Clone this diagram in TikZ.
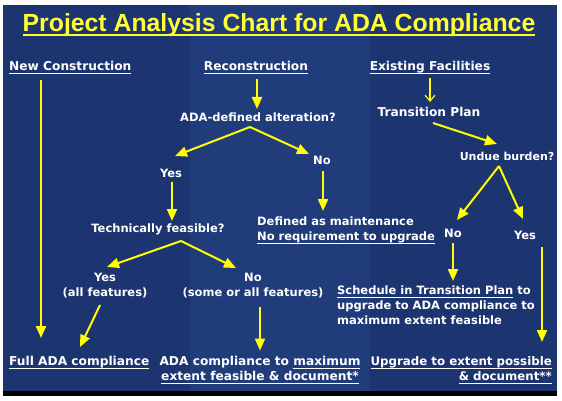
\documentclass[tikz,border=0pt]{standalone}
\usepackage{fontspec}
\usetikzlibrary{arrows.meta,calc}
\setmainfont{DejaVu Sans}
\newfontfamily\titlefont{Liberation Sans}
\newcommand\ulx[2][1.1pt]{\begingroup\setbox0\hbox{#2}\dp0=0pt\vtop{\box0\kern2.2pt\hrule height #1}\endgroup}
\definecolor{paneldark}{HTML}{1C3470}
\definecolor{panellight}{HTML}{213C7A}
\definecolor{arrowyellow}{HTML}{FFFF00}
\definecolor{titleyellow}{HTML}{FFFF33}
\tikzset{
  txt/.style={inner sep=0pt, text=white, font=\fontsize{11.5}{15}\selectfont\bfseries},
  head/.style={inner sep=0pt, text=white, font=\fontsize{12.2}{15}\selectfont\bfseries},
  arr/.style={draw=arrowyellow, line width=2pt, -{Triangle[length=12pt,width=10pt]}},
  thinarr/.style={draw=arrowyellow, line width=1.2pt, -{Straight Barb[length=6pt,width=10pt,line width=1.2pt]}},
}
\begin{document}
\begin{tikzpicture}[x=1pt,y=-1pt]
\useasboundingbox (0,0) rectangle (562,401);
\fill[white] (0,0) rectangle (562,401);
% panel
\fill[paneldark] (3,5) rectangle (190,391);
\fill[panellight] (190,5) rectangle (370,391);
\fill[paneldark] (370,5) rectangle (557,391);
\fill[black] (3,391) rectangle (557,396);
% title
\node[inner sep=0pt, text=titleyellow, font=\titlefont\fontsize{24.8}{27}\selectfont\bfseries, anchor=base] (title) at (279,32)
  {\ulx[2.2pt]{Project Analysis Chart for ADA Compliance}};
% headings
\node[head, anchor=west] (nc) at (9,68) {\ulx{New Construction}};
\node[head] (rc) at (256,68) {\ulx{Reconstruction}};
\node[head] (ef) at (430,68) {\ulx{Existing Facilities}};
% reconstruction branch
\node[txt] (alt) at (258,117) {ADA-defined alteration?};
\node[txt] (no1) at (322,160) {No};
\node[txt] (yes1) at (171,173) {Yes};
\node[txt] (tech) at (158,229) {Technically feasible?};
\node[txt, anchor=west, align=left] (maint) at (257,230.5) {Defined as maintenance\\\ulx{No requirement to upgrade}};
\node[txt, align=center] (yes2) at (105,286) {Yes\\(all features)};
\node[txt, align=center] (no2) at (253,286) {No\\(some or all features)};
\node[head, anchor=west] (full) at (9,363) {\ulx{Full ADA compliance}};
\node[head, align=center] (adamax) at (260,370.5) {ADA compliance to \ulx{maximum}\\\ulx{extent feasible \& document*}};
% existing facilities branch
\node[head] (tp) at (429,112) {Transition Plan};
\node[txt, font=\fontsize{11}{15}\selectfont\bfseries] (undue) at (507,156) {Undue burden?};
\node[txt] (no3) at (453,233) {No};
\node[txt] (yes3) at (525,235) {Yes};
\node[txt, anchor=west, align=left] (sched) at (337,305.5) {\ulx{Schedule in Transition Plan} to\\upgrade to ADA compliance to\\maximum extent feasible};
\node[head, font=\fontsize{11.8}{15}\selectfont\bfseries, anchor=east, align=right] (upg) at (552,370.5) {\ulx{Upgrade to extent possible}\\\ulx{\& document**}};
% arrows
\draw[arr] ($(nc.west)+(32,12)$) -- ($(full.west)+(32,-25)$);
\draw[arr] ($(rc.center)+(1,11)$) -- ($(alt.center)+(-1,-8)$);
\draw[arr] ($(alt.center)+(-8,10)$) -- ($(yes1.center)+(4,-17)$);
\draw[arr] ($(alt.center)+(-8,10)$) -- ($(no1.center)+(-13,-6)$);
\draw[arr] ($(yes1.center)+(1,9)$) -- ($(tech.center)+(14,-8)$);
\draw[arr] ($(no1.center)+(1,11)$) -- ($(maint.west)+(66,-19.5)$);
\draw[arr] ($(tech.center)+(23,12)$) -- ($(yes2.center)+(2,-19)$);
\draw[arr] ($(tech.center)+(23,12)$) -- ($(no2.center)+(-17,-18)$);
\draw[arr] ($(yes2.center)+(-5,19)$) -- ($(full.west)+(71,-16)$);
\draw[arr] ($(no2.center)+(7,21)$) -- ($(adamax.center)+(0,-20)$);
\draw[thinarr] ($(ef.center)+(0,10)$) -- ($(tp.center)+(1,-10)$);
\draw[arr] ($(tp.center)+(4,11)$) -- ($(undue.center)+(-10,-12)$);
\draw[arr] ($(undue.center)+(-8,10)$) -- ($(no3.center)+(4,-13)$);
\draw[arr] ($(undue.center)+(-8,10)$) -- ($(yes3.center)+(-2,-16)$);
\draw[arr] ($(no3.center)+(0,10)$) -- ($(sched.west)+(116,-24.5)$);
\draw[arr] ($(yes3.center)+(17,12)$) -- ($(upg.east)+(-10,-28.5)$);
\end{tikzpicture}
\end{document}
